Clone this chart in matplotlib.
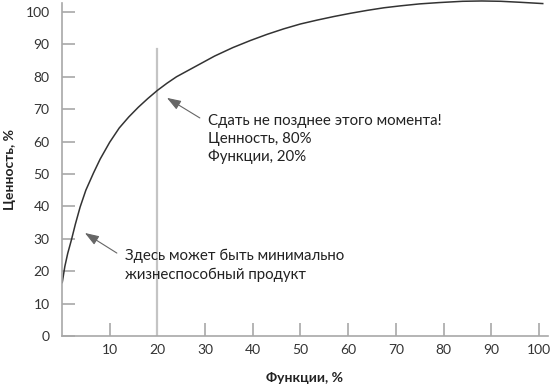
import matplotlib
matplotlib.use('Agg')
import matplotlib.pyplot as plt

# curve
features = [0.05, 0.6, 1.2, 2.0, 2.8, 3.8, 5.0, 6.6, 8.0, 10.0, 12.0, 14.0, 16.0, 18.0,
            20.0, 22.0, 24.0, 26.5, 29.0, 32.0, 35.8, 39.5, 43, 46.5, 50, 53.5, 57,
            60.5, 64, 67.5, 71, 75, 79, 84, 88, 92, 96, 100.8]
value = [16.5, 21.5, 25.5, 29.8, 34.5, 39.8, 45.0, 50.3, 54.6, 59.8, 64.2, 67.6, 70.6, 73.3,
         75.8, 78.0, 80.0, 82.0, 84.0, 86.4, 89.0, 91.2, 93.1, 94.8, 96.3, 97.5, 98.6,
         99.6, 100.5, 101.3, 101.9, 102.5, 102.9, 103.3, 103.4, 103.3, 103.0, 102.6]

x_ticks = [10, 20, 30, 40, 50, 60, 70, 80, 90, 100]
y_ticks = [0, 10, 20, 30, 40, 50, 60, 70, 80, 90, 100]
deadline_x = 20
deadline_top = 88.6

plt.rcParams['font.family'] = ['Lato', 'DejaVu Sans']

fig = plt.figure(figsize=(5.59, 3.88), dpi=100)
ax = fig.add_axes([62 / 559, 52 / 388, 496 / 559, 336 / 388])
ax.set_xlim(0, 104)
ax.set_ylim(0, 103.7)

axis_grey = '#a8a8a8'
ax.plot([deadline_x, deadline_x], [0, deadline_top], color='#c4c4c4', lw=1.6)
ax.plot(features, value, color='#333333', lw=1.1)

for s in ['top', 'right']:
    ax.spines[s].set_visible(False)
for s in ['left', 'bottom']:
    ax.spines[s].set_color(axis_grey)
    ax.spines[s].set_linewidth(1.2)
ax.spines['left'].set_bounds(0, 102.8)
ax.spines['bottom'].set_bounds(0, 101.9)

ax.set_xticks(x_ticks)
ax.set_yticks(y_ticks)
ax.tick_params(axis='both', direction='in', length=9.4, width=1.2, color=axis_grey,
               labelsize=10, labelcolor='#333333')
ax.tick_params(axis='x', pad=6)
ax.tick_params(axis='y', pad=9)

arrow = dict(arrowstyle='-|>,head_length=0.85,head_width=0.3', color='#666666',
             lw=0.8, shrinkA=0, shrinkB=0, mutation_scale=10)
ax.annotate('', xy=(22.0, 73.5), xytext=(28.9, 67.3), arrowprops=arrow)
ax.annotate('', xy=(4.8, 31.8), xytext=(11.5, 25.6), arrowprops=arrow)

ax.text(30.6, 60.8, 'Сдать не позднее этого момента!\nЦенность, 80%\nФункции, 20%',
        fontsize=10.8, color='#222222', va='center', ha='left', linespacing=1.35)
ax.text(13.2, 21.8, 'Здесь может быть минимально\nжизнеспособный продукт',
        fontsize=10.8, color='#222222', va='center', ha='left', linespacing=1.35)

fig.text(305 / 559, 1 - 378 / 388, 'Функции, %', ha='center', va='center',
         fontsize=10, fontweight='bold', color='#222222')
fig.text(10 / 559, 1 - 170 / 388, 'Ценность, %', ha='center', va='center', rotation=90,
         fontsize=10, fontweight='bold', color='#222222')

fig.savefig('out.png', dpi=100)
